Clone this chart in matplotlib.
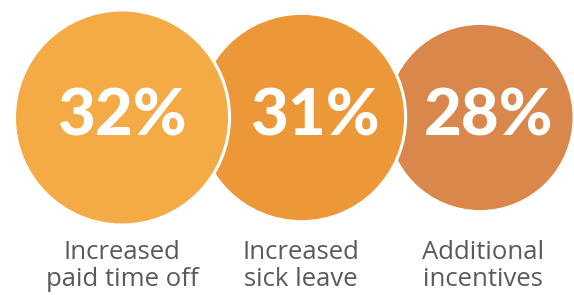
import matplotlib
matplotlib.use("Agg")
import matplotlib.pyplot as plt
from matplotlib.patches import Circle

values = [32, 31, 28]
value_labels = ["32%", "31%", "28%"]
categories = ["Increased\npaid time off", "Increased\nsick leave", "Additional\nincentives"]
colors = ["#F4AB45", "#EC9838", "#D9874A"]

centers_x = [122, 301.5, 480]
center_y = 117.5
label_x = [122, 301, 483]
text_x = [122, 315, 489]
scale = 3.36

fig = plt.figure(figsize=(5.74, 2.95), dpi=100)
ax = fig.add_axes([0, 0, 1, 1])
ax.set_xlim(0, 574)
ax.set_ylim(295, 0)
ax.set_aspect("equal")
ax.axis("off")

n = len(values)
for i in reversed(range(n)):
    r = values[i] * scale
    c = Circle((centers_x[i], center_y), r, facecolor=colors[i],
               edgecolor="white", linewidth=2.2, zorder=2 + (n - i))
    ax.add_patch(c)

for i in range(n):
    ax.text(text_x[i], center_y, value_labels[i], color="white",
            fontsize=47, fontweight=900, family="Lato",
            ha="center", va="center", zorder=10)
    ax.text(label_x[i], 266, categories[i], color="#5a5a5a",
            fontsize=18.5, family="Open Sans", ha="center", va="center",
            linespacing=1.12, zorder=10)

fig.savefig("out.png", dpi=100)
